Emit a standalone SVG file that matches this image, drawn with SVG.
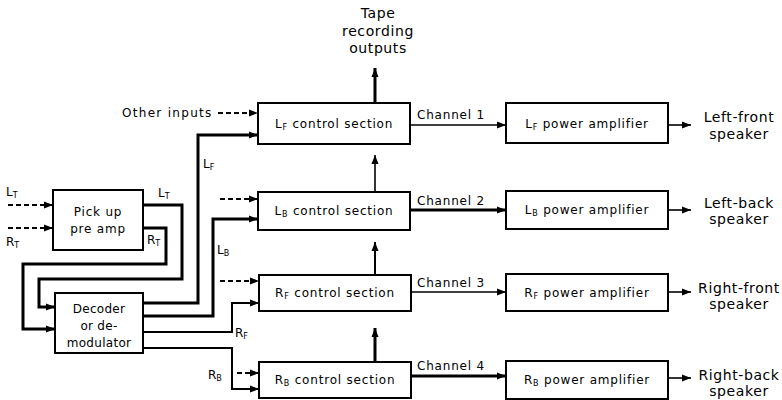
<svg xmlns="http://www.w3.org/2000/svg" width="782" height="400" viewBox="0 0 782 400">
<defs>
<marker id="ah" markerUnits="userSpaceOnUse" markerWidth="10" markerHeight="8" refX="9" refY="4" orient="auto">
<path d="M0,0.5 L9,4 L0,7.5 z" fill="#000"/>
</marker>
<style>
.box{fill:#fff;stroke:#000;stroke-width:2}
.w{fill:none;stroke:#000;stroke-width:1.6}
.t{fill:none;stroke:#000;stroke-width:3}
.d{fill:none;stroke:#000;stroke-width:2;stroke-dasharray:5,3}
.a{marker-end:url(#ah)}
.bt{font-family:"DejaVu Sans",sans-serif;font-size:12px;letter-spacing:0.8px;fill:#000}
.lb{font-family:"DejaVu Sans",sans-serif;font-size:12px;fill:#000}
.big{font-family:"DejaVu Sans",sans-serif;font-size:14px;letter-spacing:0.6px;fill:#000;text-anchor:middle}
.mid{text-anchor:middle}
</style>
</defs>
<rect width="782" height="400" fill="#fff"/>

<g id="connectors">
<!-- left inputs to pick-up -->
<path class="d a" d="M8,205 H53"/>
<path class="d a" d="M8,228 H53"/>
<!-- pick-up to decoder -->
<path class="t a" d="M143,205 H182 V279 H39 V307 H55"/>
<path class="t a" d="M143,228 H166 V264 H23 V329 H55"/>
<!-- decoder outputs -->
<path class="t a" d="M143,303 H198 V135 H258"/>
<path class="t a" d="M143,316 H213 V219 H258"/>
<path class="w a" d="M143,332 H232 V303 H259" style="stroke-width:2"/>
<path class="w a" d="M143,348 H232 V389 H259" style="stroke-width:2"/>
<!-- other dashed inputs -->
<path class="d a" d="M218,113 H258"/>
<path class="d a" d="M220,199 H258"/>
<path class="d a" d="M220,281 H259"/>
<path class="d a" d="M237,373 H259"/>
<!-- vertical arrows -->
<path class="t a" d="M375,103 V68"/>
<path class="w a" d="M375,192 V155"/>
<path class="w a" d="M375,275 V242" style="stroke-width:2"/>
<path class="t a" d="M375,362 V328"/>
<!-- channels -->
<path class="w a" d="M410,125 H506"/>
<path class="t a" d="M410,210 H506"/>
<path class="w a" d="M410,292 H506"/>
<path class="t a" d="M410,376 H506"/>
<!-- speakers -->
<path class="w a" d="M668,125 H691"/>
<path class="w a" d="M668,210 H691"/>
<path class="w a" d="M668,292 H691"/>
<path class="w a" d="M668,378 H691"/>
<!-- connector labels -->
<text class="lb" x="6" y="196">L<tspan font-size="8" dy="2">T</tspan></text>
<text class="lb" x="6" y="246">R<tspan font-size="8" dy="2">T</tspan></text>
<text class="lb" x="158" y="197">L<tspan font-size="8" dy="2">T</tspan></text>
<text class="lb" x="147" y="244">R<tspan font-size="8" dy="2">T</tspan></text>
<text class="lb" x="203" y="168">L<tspan font-size="8" dy="2">F</tspan></text>
<text class="lb" x="217" y="254">L<tspan font-size="8" dy="2">B</tspan></text>
<text class="lb" x="235" y="337">R<tspan font-size="8" dy="2">F</tspan></text>
<text class="lb" x="208" y="379">R<tspan font-size="8" dy="2">B</tspan></text>
<text class="bt" x="122" y="117" style="letter-spacing:1.3px">Other inputs</text>
<text class="bt" x="417" y="119">Channel 1</text>
<text class="bt" x="417" y="205">Channel 2</text>
<text class="bt" x="417" y="287">Channel 3</text>
<text class="bt" x="417" y="370">Channel 4</text>
</g>

<g id="tape">
<text class="big" x="378" y="18">Tape</text>
<text class="big" x="378" y="36">recording</text>
<text class="big" x="378" y="53">outputs</text>
</g>

<g id="pickup">
<rect class="box" x="53" y="190" width="90" height="60"/>
<text class="bt mid" x="98" y="216">Pick up</text>
<text class="bt mid" x="98" y="233">pre amp</text>
</g>

<g id="decoder">
<rect class="box" x="55" y="293" width="88" height="60"/>
<text class="bt mid" x="99" y="313" style="letter-spacing:0.3px">Decoder</text>
<text class="bt mid" x="99" y="330" style="letter-spacing:0.3px">or de-</text>
<text class="bt mid" x="99" y="347" style="letter-spacing:0.3px">modulator</text>
</g>

<g id="lf-control">
<rect class="box" x="258" y="103" width="152" height="41"/>
<text class="bt mid" x="334" y="128">L<tspan font-size="8" dy="2">F</tspan><tspan dy="-2"> control section</tspan></text>
</g>
<g id="lb-control">
<rect class="box" x="258" y="192" width="152" height="38"/>
<text class="bt mid" x="334" y="215">L<tspan font-size="8" dy="2">B</tspan><tspan dy="-2"> control section</tspan></text>
</g>
<g id="rf-control">
<rect class="box" x="259" y="275" width="152" height="36"/>
<text class="bt mid" x="335" y="297">R<tspan font-size="8" dy="2">F</tspan><tspan dy="-2"> control section</tspan></text>
</g>
<g id="rb-control">
<rect class="box" x="259" y="362" width="152" height="36"/>
<text class="bt mid" x="335" y="384">R<tspan font-size="8" dy="2">B</tspan><tspan dy="-2"> control section</tspan></text>
</g>

<g id="lf-amp">
<rect class="box" x="506" y="103" width="162" height="40"/>
<text class="bt mid" x="587" y="128">L<tspan font-size="8" dy="2">F</tspan><tspan dy="-2"> power amplifier</tspan></text>
</g>
<g id="lb-amp">
<rect class="box" x="506" y="191" width="162" height="38"/>
<text class="bt mid" x="587" y="214">L<tspan font-size="8" dy="2">B</tspan><tspan dy="-2"> power amplifier</tspan></text>
</g>
<g id="rf-amp">
<rect class="box" x="506" y="274" width="162" height="37"/>
<text class="bt mid" x="587" y="297">R<tspan font-size="8" dy="2">F</tspan><tspan dy="-2"> power amplifier</tspan></text>
</g>
<g id="rb-amp">
<rect class="box" x="506" y="361" width="162" height="38"/>
<text class="bt mid" x="587" y="384">R<tspan font-size="8" dy="2">B</tspan><tspan dy="-2"> power amplifier</tspan></text>
</g>

<g id="lf-speaker">
<text class="big" x="739" y="122">Left-front</text>
<text class="big" x="739" y="139">speaker</text>
</g>
<g id="lb-speaker">
<text class="big" x="739" y="208">Left-back</text>
<text class="big" x="739" y="224">speaker</text>
</g>
<g id="rf-speaker">
<text class="big" x="739" y="293">Right-front</text>
<text class="big" x="739" y="309">speaker</text>
</g>
<g id="rb-speaker">
<text class="big" x="739" y="380">Right-back</text>
<text class="big" x="739" y="396">speaker</text>
</g>
</svg>
